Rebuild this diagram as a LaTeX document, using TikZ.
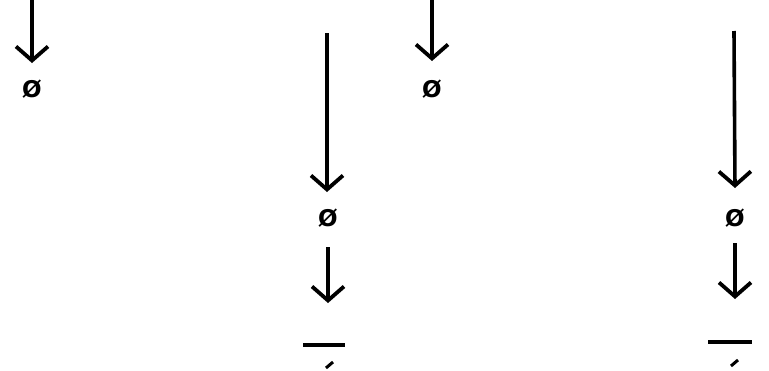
\documentclass[tikz,border=0pt]{standalone}
\usepackage{fontspec}
\setmainfont{DejaVu Sans}
\usetikzlibrary{arrows.meta}
\begin{document}
\begin{tikzpicture}[x=1pt,y=-1pt,
  arr/.style={line width=3.6pt,-{Straight Barb[length=14pt,width=32pt,line width=3.8pt]}},
  empt/.style={inner sep=0pt,font=\fontsize{23}{23}\selectfont\bfseries},
  barline/.style={line width=3.4pt},
  tick/.style={line width=3pt}]
\useasboundingbox (0,0) rectangle (769,370);
% column 1
\coordinate (a1) at (32,-2);
\node[empt] (e1) at (32,89) {Ø};
\draw[arr] (a1) -- (32,63);
% column 3
\coordinate (a3) at (432,-2);
\node[empt] (e3) at (432,89) {Ø};
\draw[arr] (a3) -- (432,61);
% column 2
\coordinate (b2) at (327,33);
\node[empt] (e2) at (328,218) {Ø};
\coordinate (c2) at (328,247);
\coordinate (d2) at (328,303);
\draw[arr] (b2) -- (327,192);
\draw[arr] (c2) -- (d2);
\coordinate (l2) at (303,345);
\coordinate (r2) at (345,345);
\draw[barline] (l2) -- (r2);
\draw[tick] (326,368) -- (333,362);
% column 4
\coordinate (b4) at (734,31);
\node[empt] (e4) at (735,218) {Ø};
\coordinate (c4) at (735,243);
\coordinate (d4) at (735,299);
\draw[arr] (b4) -- (735,188);
\draw[arr] (c4) -- (d4);
\coordinate (l4) at (708,342);
\coordinate (r4) at (752,342);
\draw[barline] (l4) -- (r4);
\draw[tick] (731,366) -- (738,360);
\end{tikzpicture}
\end{document}
